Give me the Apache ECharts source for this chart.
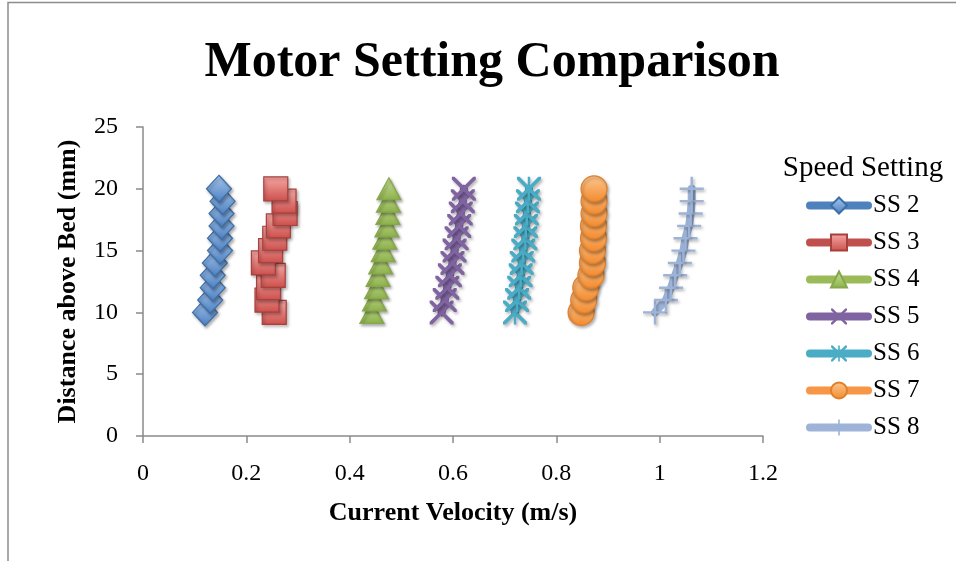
<!DOCTYPE html>
<html>
<head>
<meta charset="utf-8">
<script src="https://cdn.jsdelivr.net/npm/echarts@6/dist/echarts.min.js"></script>
<style>
html,body{margin:0;padding:0;background:#fff;}
#chart{width:956px;height:561px;}
</style>
</head>
<body>
<div id="chart"></div>
<script>
// Distance above bed (mm)
const depths = [10, 11, 12, 13, 14, 15, 16, 17, 18, 19, 20];
// Current velocity (m/s) per speed setting, ordered by depth
const ss2 = [0.120, 0.130, 0.135, 0.135, 0.139, 0.149, 0.149, 0.152, 0.152, 0.154, 0.147];
const ss3 = [0.254, 0.240, 0.243, 0.252, 0.233, 0.247, 0.255, 0.262, 0.275, 0.273, 0.257];
const ss4 = [0.443, 0.448, 0.452, 0.455, 0.460, 0.465, 0.468, 0.472, 0.474, 0.475, 0.476];
const ss5 = [0.578, 0.584, 0.589, 0.594, 0.599, 0.603, 0.607, 0.612, 0.615, 0.619, 0.621];
const ss6 = [0.720, 0.724, 0.728, 0.731, 0.733, 0.736, 0.740, 0.741, 0.743, 0.745, 0.747];
const ss7 = [0.848, 0.853, 0.857, 0.867, 0.870, 0.870, 0.872, 0.872, 0.873, 0.873, 0.873];
const ss8 = [0.991, 1.012, 1.022, 1.030, 1.039, 1.046, 1.050, 1.057, 1.060, 1.062, 1.062];
const seriesNames = ['SS 2', 'SS 3', 'SS 4', 'SS 5', 'SS 6', 'SS 7', 'SS 8'];
const seriesValues = [ss2, ss3, ss4, ss5, ss6, ss7, ss8];
const xTicks = { min: 0, max: 1.2, interval: 0.2 };
const yTicks = { min: 0, max: 25, interval: 5 };

const SERIF = '"Liberation Serif", "DejaVu Serif", serif';
function grad(top, bottom) {
  return new echarts.graphic.LinearGradient(0, 0, 0, 1, [
    { offset: 0, color: top }, { offset: 1, color: bottom }
  ]);
}
const X_PATH = 'path://M0,0 L2.6,0 L12,9.4 L21.4,0 L24,0 L24,2.6 L14.6,12 L24,21.4 L24,24 L21.4,24 L12,14.6 L2.6,24 L0,24 L0,21.4 L9.4,12 L0,2.6 Z';
const STAR_PATH = X_PATH.replace(' Z', ' Z M10.8,0 L13.2,0 L13.2,24 L10.8,24 Z');
const PLUS_PATH = 'path://M0,10.8 L24,10.8 L24,13.2 L0,13.2 Z M10.8,0 L13.2,0 L13.2,24 L10.8,24 Z';

const styles = [
  { line: '#4F81BD', symbol: 'diamond', size: [25, 27], fill: grad('#a9c8ee', '#4a7fc0'), border: '#3c6ea8' },
  { line: '#C0504D', symbol: 'rect', size: 24, fill: grad('#f6a9a6', '#cc4f4b'), border: '#a8403d' },
  { line: '#9BBB59', symbol: 'triangle', size: [24, 22], fill: grad('#c8e29a', '#8cb04a'), border: '#86a84a' },
  { line: '#8064A2', symbol: X_PATH, size: 24, fill: '#8064A2', border: null },
  { line: '#4BACC6', symbol: STAR_PATH, size: 24, fill: '#4BACC6', border: null },
  { line: '#F79646', symbol: 'circle', size: 26, fill: grad('#fcc891', '#f28a2e'), border: '#e07f2a' },
  { line: '#9DB3D8', symbol: PLUS_PATH, size: 24, fill: '#9DB3D8', border: null }
];

const series = seriesNames.map((name, i) => {
  const s = styles[i];
  return {
    name: name,
    type: 'line',
    data: seriesValues[i].map((v, k) => [v, depths[k]]),
    symbol: s.symbol,
    symbolSize: s.size,
    showAllSymbol: true,
    lineStyle: { color: s.line, width: 8, cap: 'round', join: 'round' },
    itemStyle: Object.assign({
      color: s.fill,
      shadowBlur: 3,
      shadowColor: 'rgba(0,0,0,0.3)',
      shadowOffsetX: 1.5,
      shadowOffsetY: 2
    }, s.border ? { borderColor: s.border, borderWidth: 1.2 } : { borderWidth: 0 }),
    emphasis: { disabled: true },
    animation: false
  };
});

const chart = echarts.init(document.getElementById('chart'), null, { renderer: 'canvas' });
chart.setOption({
  backgroundColor: '#ffffff',
  animation: false,
  title: [
    {
      text: 'Motor Setting Comparison',
      left: 487, top: 33, textAlign: 'center',
      textStyle: { fontFamily: SERIF, fontWeight: 'bold', fontSize: 50, color: '#000' }
    },
    {
      text: 'Speed Setting',
      left: 858, top: 149, textAlign: 'center',
      textStyle: { fontFamily: SERIF, fontWeight: 'normal', fontSize: 29, color: '#000' }
    }
  ],
  graphic: [
    { type: 'rect', shape: { x: 8, y: 2.5, width: 1000, height: 700 }, style: { fill: 'none', stroke: '#8c8c8c', lineWidth: 1.5 }, silent: true }
  ],
  legend: {
    orient: 'vertical',
    left: 806, top: 193,
    padding: 0,
    itemWidth: 58, itemHeight: 20, itemGap: 12,
    data: seriesNames,
    textStyle: { fontFamily: SERIF, fontSize: 25, color: '#000' },
    lineStyle: { width: 8, cap: 'round' },
    selectedMode: false
  },
  grid: { left: 143, right: 193, top: 127, bottom: 125, containLabel: false },
  xAxis: {
    type: 'value', min: xTicks.min, max: xTicks.max, interval: xTicks.interval,
    name: 'Current Velocity (m/s)', nameLocation: 'middle', nameGap: 64,
    nameTextStyle: { fontFamily: SERIF, fontWeight: 'bold', fontSize: 26, color: '#000' },
    axisLine: { show: true, onZero: false, lineStyle: { color: '#8a8a8a', width: 1.5 } },
    axisTick: { show: true, length: 7, lineStyle: { color: '#8a8a8a', width: 1.5 } },
    axisLabel: { margin: 26, fontFamily: SERIF, fontSize: 24, color: '#000' },
    splitLine: { show: false }
  },
  yAxis: {
    type: 'value', min: yTicks.min, max: yTicks.max, interval: yTicks.interval,
    name: 'Distance above Bed (mm)', nameLocation: 'middle', nameGap: 62,
    nameTextStyle: { fontFamily: SERIF, fontWeight: 'bold', fontSize: 26, color: '#000' },
    axisLine: { show: true, onZero: false, lineStyle: { color: '#8a8a8a', width: 1.5 } },
    axisTick: { show: true, length: 7, lineStyle: { color: '#8a8a8a', width: 1.5 } },
    axisLabel: { margin: 25, fontFamily: SERIF, fontSize: 24, color: '#000' },
    splitLine: { show: false }
  },
  series: series
});
</script>
</body>
</html>
